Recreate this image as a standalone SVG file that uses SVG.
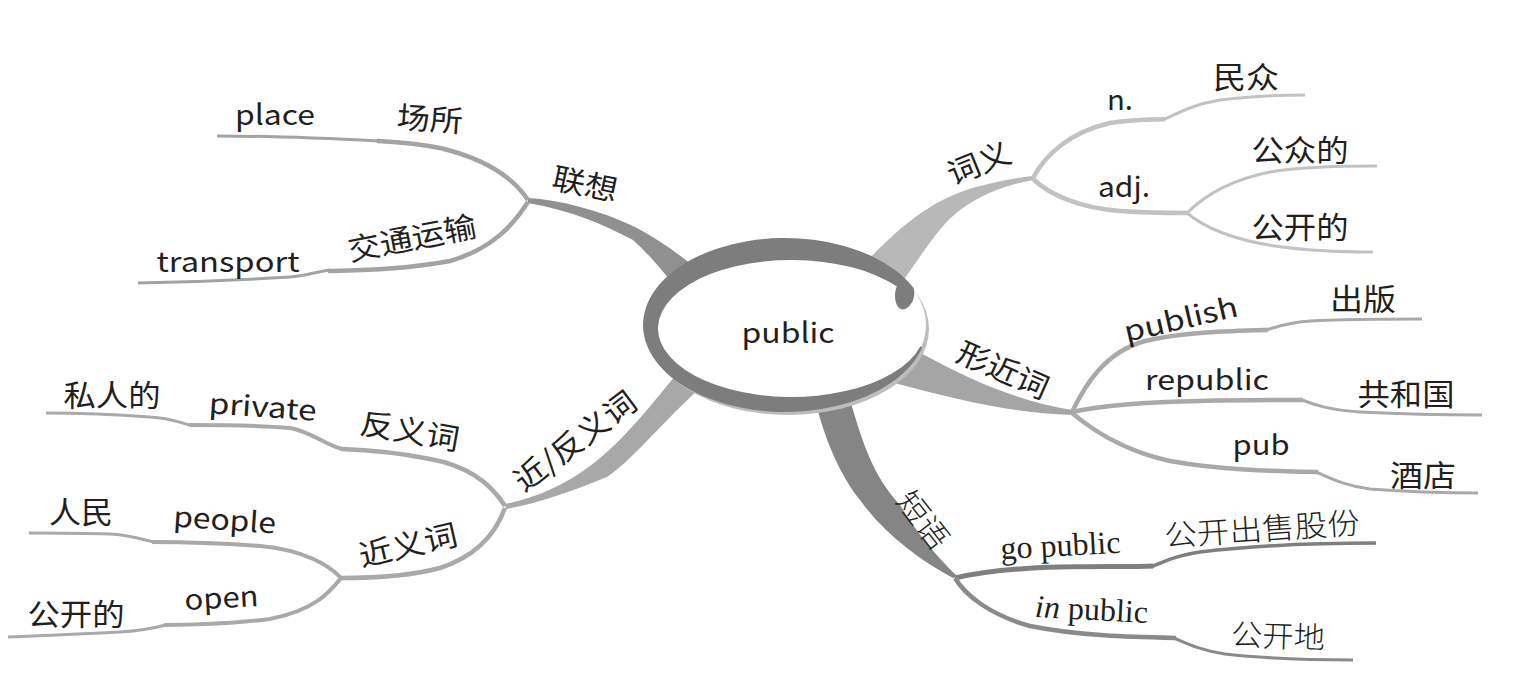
<svg xmlns="http://www.w3.org/2000/svg" width="1520" height="681" viewBox="0 0 1520 681">
<style>
text{lengthAdjust:spacingAndGlyphs}
.t{font-family:"Noto Sans CJK SC","Liberation Sans",sans-serif;font-size:28px;fill:#231f20;text-anchor:middle}
.c{font-family:"Noto Sans CJK SC",sans-serif;font-size:30px;fill:#231f20;text-anchor:middle}
.s{font-family:"Liberation Serif","Noto Sans CJK SC",serif;font-size:32px;fill:#231f20;text-anchor:middle}
.cs{font-family:"Noto Sans CJK SC",serif;font-size:30px;font-weight:300;fill:#231f20;text-anchor:middle}
.l{fill:none;stroke-linecap:butt;stroke-linejoin:round}
.g1{stroke:#a3a3a3}.g2{stroke:#c2c2c2}.g3{stroke:#a9a9a9}.g4{stroke:#7f7f7f}.g5{stroke:#8a8a8a}.g6{stroke:#a9a9a9}
.w5{stroke-width:4.5}.w3{stroke-width:3}
</style>
<rect width="1520" height="681" fill="#ffffff"/>
<g id="connectors">
  <path fill="#909090" d="M528,198 C560,200 600,210 635,227 C660,240 685,258 710,280 L685,300 C670,280 655,260 633,240 C605,225 570,210 528,203 Z"/>
  <path fill="#b8b8b8" d="M868,260 C895,232 930,198 980,186 C1000,181 1015,178 1033,176 L1033,180 C1010,184 985,192 960,210 C940,225 925,250 900,285 Z"/>
  <path fill="#a5a5a5" d="M905,345 C950,368 1000,398 1072,410 L1072,415 C1010,413 960,400 890,382 Z"/>
  <path fill="#858585" d="M815,400 C825,440 840,475 860,500 C885,535 920,560 953,578 L957,576 C935,555 915,530 900,505 C872,475 862,440 850,400 Z"/>
  <path fill="#a8a8a8" d="M680,370 C655,400 625,440 590,466 C565,485 535,498 505,504 L506,509 C540,503 575,490 607,477 C630,462 655,430 700,388 Z"/>
  <path class="l g1 w5" d="M528,200 C512,176 482,158 440,148 C415,143 395,142 377,141"/>
  <path class="l g1 w3" d="M379,141 C340,139 280,136 217,136"/>
  <path class="l g1 w5" d="M528,202 C515,222 495,248 450,261 C400,270 360,270 328,271"/>
  <path class="l g1 w3" d="M330,270 C315,272 305,276 290,277 C240,280 190,282 138,283"/>
  <path class="l g2 w5" d="M1033,178 C1045,155 1070,132 1110,123 C1135,119 1150,120 1165,119"/>
  <path class="l g2 w3" d="M1163,120 C1180,112 1195,104 1220,100 C1250,96 1280,95 1305,95"/>
  <path class="l g2 w5" d="M1033,179 C1050,195 1080,208 1120,211 C1150,213 1170,213 1187,213"/>
  <path class="l g2 w3" d="M1187,213 C1205,195 1230,180 1270,172 C1300,167 1340,166 1377,166"/>
  <path class="l g2 w3" d="M1187,213 C1205,228 1235,240 1275,246 C1310,251 1340,252 1373,252"/>
  <path class="l g3 w5" d="M1072,412 C1085,385 1105,352 1145,341 C1185,332 1230,331 1268,330"/>
  <path class="l g3 w3" d="M1266,330 C1280,326 1290,322 1310,321 C1350,319 1390,319 1422,319"/>
  <path class="l g3 w5" d="M1072,412 C1100,406 1150,402 1200,401 C1240,400 1280,400 1303,400"/>
  <path class="l g3 w3" d="M1302,400 C1315,405 1330,410 1360,412 C1400,414 1440,415 1482,415"/>
  <path class="l g3 w5" d="M1072,413 C1090,428 1120,450 1170,461 C1220,470 1270,471 1318,472"/>
  <path class="l g3 w3" d="M1316,472 C1330,478 1345,486 1370,489 C1410,492 1440,493 1478,493"/>
  <path class="l g4" stroke-width="5" d="M955,578 C985,571 1020,568 1060,567 C1100,566 1130,567 1153,566"/>
  <path class="l g4" stroke-width="3.5" d="M1151,567 C1165,561 1175,556 1200,552 C1250,546 1310,543 1376,543"/>
  <path class="l g5 w5" d="M955,578 C965,595 990,615 1030,626 C1080,636 1130,637 1176,638"/>
  <path class="l g5 w3" d="M1174,638 C1188,644 1200,650 1225,654 C1270,659 1310,660 1353,660"/>
  <path class="l g6 w5" d="M505,506 C495,490 475,467 430,459 C400,453 370,450 341,449"/>
  <path class="l g6" stroke-width="4" d="M342,449 C325,445 312,432 290,428 C255,425 215,425 189,425"/>
  <path class="l g6 w3" d="M190,425 C178,422 170,418 150,417 C110,414 80,413 46,413"/>
  <path class="l g6 w5" d="M505,508 C497,530 480,555 440,568 C410,576 370,578 341,578"/>
  <path class="l g6" stroke-width="4" d="M341,578 C330,566 305,550 260,546 C220,543 180,542 152,542"/>
  <path class="l g6 w3" d="M154,542 C140,539 130,535 110,534 C80,533 55,533 29,533"/>
  <path class="l g6" stroke-width="4" d="M341,578 C330,592 315,610 270,619 C230,624 195,625 164,625"/>
  <path class="l g6 w3" d="M166,625 C150,629 140,631 120,632 C80,634 40,636 8,637"/>
</g>
<g id="center">
  <ellipse cx="788" cy="329" rx="141" ry="86" fill="#bdbdbd"/>
  <ellipse cx="785" cy="325" rx="141" ry="86" fill="#ffffff"/>
  <path fill="#7d7d7d" d="M913.7,288.2 A142,87 0 1 0 922.2,347.5 L920.4,346.2 A133.5,68.5 0 1 1 896.7,286.3 C892,300 898,312 905,309 C912,306 916,296 913.7,288.2 Z"/>
  <text class="t" x="788" y="343" font-size="31" textLength="93" lengthAdjust="spacingAndGlyphs">public</text>
</g>
<g id="n-lianxiang"><text class="c" transform="translate(585,184) rotate(12)" y="11" textLength="66" lengthAdjust="spacingAndGlyphs">联想</text></g>
<g id="n-changsuo"><text class="c" transform="translate(430,119) rotate(4)" y="11" textLength="66" lengthAdjust="spacingAndGlyphs">场所</text></g>
<g id="n-place"><text class="t" x="275" y="125" textLength="80" lengthAdjust="spacingAndGlyphs">place</text></g>
<g id="n-jiaotong"><text class="c" transform="translate(412,238) rotate(-11)" y="11" textLength="130" lengthAdjust="spacingAndGlyphs">交通运输</text></g>
<g id="n-transport"><text class="t" x="228" y="272" textLength="143" lengthAdjust="spacingAndGlyphs">transport</text></g>
<g id="n-ciyi"><text class="c" transform="translate(979,163) rotate(-22)" y="11" textLength="66" lengthAdjust="spacingAndGlyphs">词义</text></g>
<g id="n-n"><text class="t" x="1120" y="110" textLength="26" lengthAdjust="spacingAndGlyphs">n.</text></g>
<g id="n-minzhong"><text class="c" x="1246" y="88" textLength="66" lengthAdjust="spacingAndGlyphs">民众</text></g>
<g id="n-adj"><text class="t" x="1124" y="197" textLength="52" lengthAdjust="spacingAndGlyphs">adj.</text></g>
<g id="n-gongzhongde"><text class="c" x="1300" y="161" textLength="97" lengthAdjust="spacingAndGlyphs">公众的</text></g>
<g id="n-gongkaide1"><text class="c" x="1300" y="238" textLength="97" lengthAdjust="spacingAndGlyphs">公开的</text></g>
<g id="n-xingjinci"><text class="c" transform="translate(1003,370) rotate(24)" y="11" textLength="97" lengthAdjust="spacingAndGlyphs">形近词</text></g>
<g id="n-publish"><text class="t" transform="translate(1183,329) rotate(-13)" textLength="116" lengthAdjust="spacingAndGlyphs">publish</text></g>
<g id="n-chuban"><text class="c" x="1363" y="310" textLength="66" lengthAdjust="spacingAndGlyphs">出版</text></g>
<g id="n-republic"><text class="t" x="1207" y="390" textLength="124" lengthAdjust="spacingAndGlyphs">republic</text></g>
<g id="n-gongheguo"><text class="c" x="1406" y="405" textLength="97" lengthAdjust="spacingAndGlyphs">共和国</text></g>
<g id="n-pub"><text class="t" x="1261" y="455" textLength="57" lengthAdjust="spacingAndGlyphs">pub</text></g>
<g id="n-jiudian"><text class="c" x="1423" y="486" textLength="66" lengthAdjust="spacingAndGlyphs">酒店</text></g>
<g id="n-duanyu"><text class="cs" transform="translate(923,520) rotate(52)" y="11" textLength="64" lengthAdjust="spacingAndGlyphs">短语</text></g>
<g id="n-gopublic"><text class="s" transform="translate(1061,556) rotate(-3)" textLength="120" lengthAdjust="spacingAndGlyphs">go public</text></g>
<g id="n-gongkaichushou"><text class="cs" transform="translate(1262,529) rotate(-4)" y="11" textLength="196" lengthAdjust="spacingAndGlyphs">公开出售股份</text></g>
<g id="n-inpublic"><text class="s" transform="translate(1091,620) rotate(3)" textLength="113" lengthAdjust="spacingAndGlyphs"><tspan font-style="italic">in</tspan> public</text></g>
<g id="n-gongkaidi"><text class="cs" transform="translate(1278,636) rotate(2)" y="11" textLength="94" lengthAdjust="spacingAndGlyphs">公开地</text></g>
<g id="n-jinfanyici"><text class="c" transform="translate(575,441) rotate(-37)" y="11" textLength="144" lengthAdjust="spacingAndGlyphs">近/反义词</text></g>
<g id="n-fanyici"><text class="c" transform="translate(410,431) rotate(10)" y="11" textLength="100" lengthAdjust="spacingAndGlyphs">反义词</text></g>
<g id="n-private"><text class="t" transform="translate(262,417) rotate(4)" textLength="108" lengthAdjust="spacingAndGlyphs">private</text></g>
<g id="n-sirende"><text class="c" x="112" y="406" textLength="97" lengthAdjust="spacingAndGlyphs">私人的</text></g>
<g id="n-jinyici"><text class="c" transform="translate(408,545) rotate(-13)" y="11" textLength="100" lengthAdjust="spacingAndGlyphs">近义词</text></g>
<g id="n-people"><text class="t" transform="translate(224,530) rotate(4)" textLength="103" lengthAdjust="spacingAndGlyphs">people</text></g>
<g id="n-renmin"><text class="c" x="81" y="523" textLength="64" lengthAdjust="spacingAndGlyphs">人民</text></g>
<g id="n-open"><text class="t" transform="translate(222,608) rotate(-3)" textLength="74" lengthAdjust="spacingAndGlyphs">open</text></g>
<g id="n-gongkaide2"><text class="c" x="76" y="625" textLength="97" lengthAdjust="spacingAndGlyphs">公开的</text></g>
</svg>
